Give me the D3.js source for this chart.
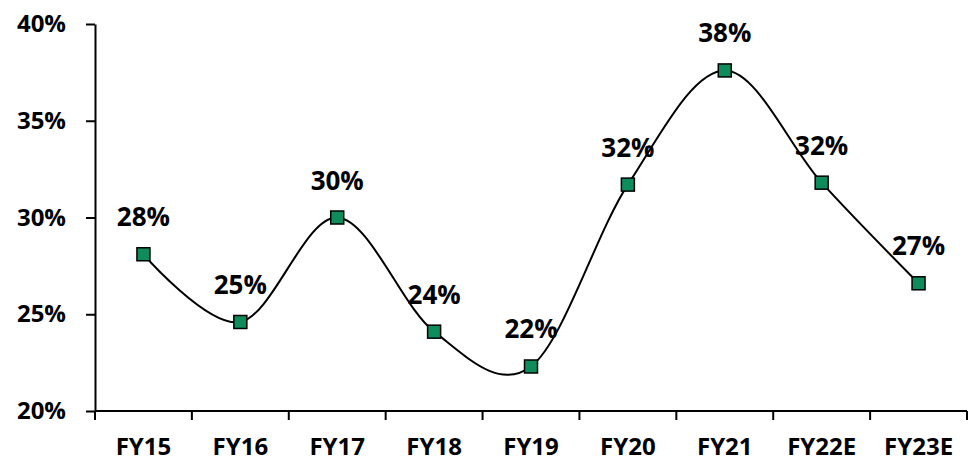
<!DOCTYPE html>
<html>
<head>
<meta charset="utf-8">
<script src="https://cdn.jsdelivr.net/npm/d3@7"></script>
<style>
  html, body { margin: 0; padding: 0; background: #fff; }
  text { font-family: "Open Sans", Lato, sans-serif; font-weight: bold; fill: #000; }
</style>
</head>
<body>
<svg id="chart" width="970" height="462"></svg>
<script>
// Fiscal years and ratio (in %)
const categories = ["FY15", "FY16", "FY17", "FY18", "FY19", "FY20", "FY21", "FY22E", "FY23E"];
const values = [28.1, 24.6, 30.0, 24.1, 22.3, 31.7, 37.6, 31.8, 26.6];
const yTicks = [20, 25, 30, 35, 40];

const svg = d3.select("#chart");
const margin = { left: 95, right: 3, top: 24, bottom: 51 };
const W = 970, H = 462;

const x = d3.scaleBand().domain(categories).range([margin.left, W - margin.right]);
const y = d3.scaleLinear().domain([20, 40]).range([H - margin.bottom, margin.top]);

// y axis
const yAxis = svg.append("g")
  .attr("transform", `translate(${margin.left},0)`)
  .call(d3.axisLeft(y).tickValues(yTicks).tickFormat(d => d + "%").tickSize(9).tickSizeOuter(0).tickPadding(20));
yAxis.select(".domain").attr("stroke", "#000").attr("stroke-width", 2);
yAxis.selectAll(".tick line").attr("stroke", "#000").attr("stroke-width", 2);
yAxis.selectAll("text").style("font-size", "24px").attr("fill", "#000");

// x axis with boundary ticks between categories
const xAxisG = svg.append("g").attr("transform", `translate(0,${y(20)})`);
xAxisG.append("line")
  .attr("x1", margin.left).attr("x2", W - margin.right)
  .attr("stroke", "#000").attr("stroke-width", 2);
const bounds = categories.map(c => x(c)).concat([x(categories[categories.length - 1]) + x.bandwidth()]);
xAxisG.selectAll("line.bt").data(bounds).join("line")
  .attr("class", "bt")
  .attr("x1", d => d).attr("x2", d => d)
  .attr("y1", 0).attr("y2", 9)
  .attr("stroke", "#000").attr("stroke-width", 2);
xAxisG.selectAll("text").data(categories).join("text")
  .attr("x", d => x(d) + x.bandwidth() / 2)
  .attr("y", 44)
  .attr("text-anchor", "middle")
  .style("font-size", "24px")
  .text(d => d);

// smoothed line
const cx = i => x(categories[i]) + x.bandwidth() / 2;
const line = d3.line()
  .x((d, i) => cx(i))
  .y(d => y(d))
  .curve(d3.curveCardinal.tension(0));
svg.append("path")
  .datum(values)
  .attr("d", line)
  .attr("fill", "none")
  .attr("stroke", "#000")
  .attr("stroke-width", 2);

// square markers
const ms = 13;
svg.selectAll("rect.m").data(values).join("rect")
  .attr("class", "m")
  .attr("x", (d, i) => cx(i) - ms / 2)
  .attr("y", d => y(d) - ms / 2)
  .attr("width", ms).attr("height", ms)
  .attr("fill", "#0e8c5c")
  .attr("stroke", "#000")
  .attr("stroke-width", 1.5);

// value labels
const fmt = d => Math.round(d) + "%";
svg.selectAll("text.v").data(values).join("text")
  .attr("class", "v")
  .attr("x", (d, i) => cx(i))
  .attr("y", d => y(d) - 28)
  .attr("text-anchor", "middle")
  .style("font-size", "26px")
  .text(fmt);
</script>
</body>
</html>
